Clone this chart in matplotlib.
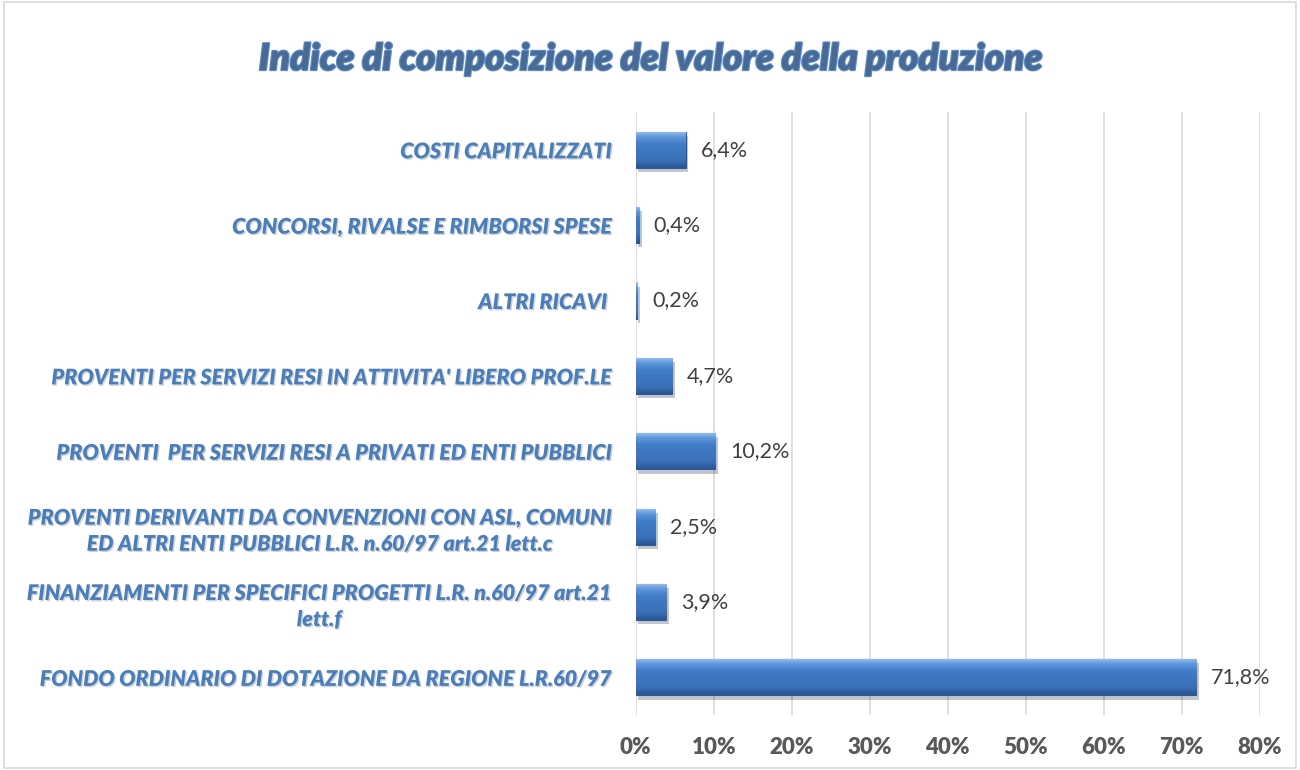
import numpy as np
import matplotlib
matplotlib.use("Agg")
import matplotlib.pyplot as plt
import matplotlib.patheffects as pe
from matplotlib.patches import Rectangle
from matplotlib.colors import LinearSegmentedColormap

# Dati (dal basso verso l'alto)
voci = [
    "FONDO ORDINARIO DI DOTAZIONE DA REGIONE L.R.60/97",
    "FINANZIAMENTI PER SPECIFICI PROGETTI L.R. n.60/97 art.21\nlett.f",
    "PROVENTI DERIVANTI DA CONVENZIONI CON ASL, COMUNI\nED ALTRI ENTI PUBBLICI L.R. n.60/97 art.21 lett.c",
    "PROVENTI  PER SERVIZI RESI A PRIVATI ED ENTI PUBBLICI",
    "PROVENTI PER SERVIZI RESI IN ATTIVITA' LIBERO PROF.LE",
    "ALTRI RICAVI ",
    "CONCORSI, RIVALSE E RIMBORSI SPESE",
    "COSTI CAPITALIZZATI",
]
percentuali = [71.8, 3.9, 2.5, 10.2, 4.7, 0.2, 0.4, 6.4]
tick_valori = [0, 10, 20, 30, 40, 50, 60, 70, 80]
tick_etichette = [f"{t}%" for t in tick_valori]

titolo = "Indice di composizione del valore della produzione"

plt.rcParams["font.family"] = ["Lato", "DejaVu Sans"]

fig = plt.figure(figsize=(13, 7.7), dpi=100)
ax = fig.add_axes([0.489, 0.0714, 0.48, 0.783])

y = np.arange(len(voci))
barre = ax.barh(y, percentuali, height=0.48, color="#3f74bd",
                edgecolor="#2b5a96", linewidth=0.8, zorder=3)

# sfumatura tipo "rilievo" sulle barre (chiaro in alto, scuro in basso)
grad = np.linspace(0, 1, 64).reshape(-1, 1)
cmap_barre = LinearSegmentedColormap.from_list(
    "bevel", [(0, "#9cc3f0"), (0.15, "#5f97dc"), (0.35, "#417cc7"),
              (0.8, "#3a70b8"), (1, "#2a5693")])
for b in barre:
    x0, y0 = b.get_x(), b.get_y()
    w, h = b.get_width(), b.get_height()
    im = ax.imshow(grad, extent=[x0, x0 + w, y0, y0 + h], aspect="auto",
                   cmap=cmap_barre, zorder=3.5, origin="upper")
    im.set_clip_path(b)
    b.set_path_effects([pe.SimplePatchShadow(offset=(2, -3), alpha=0.25), pe.Normal()])

for yi, v in zip(y, percentuali):
    ax.text(v + 1.9, yi, f"{v:.1f}%".replace(".", ","), va="center", ha="left",
            fontsize=15.5, color="#404040", zorder=5)

ax.set_xlim(0, 80)
ax.set_ylim(-0.5, len(voci) - 0.5)
ax.set_xticks(tick_valori)
ax.set_xticklabels(tick_etichette, fontsize=16, fontweight="heavy", color="#595959")
ax.set_yticks(y)
ax.set_yticklabels(voci, fontsize=15.5, fontweight="heavy", style="italic",
                   color="#4a7ebb", ha="center", multialignment="center",
                   linespacing=1.3)
ax.tick_params(axis="y", length=0, pad=0)
ax.tick_params(axis="x", length=0, pad=16)

# centra le etichette nella colonna a sinistra
fig.canvas.draw()
rend = fig.canvas.get_renderer()
for lab in ax.get_yticklabels():
    bb = lab.get_window_extent(rend)
    lab.set_x(-(bb.width / 2 + 24) / (ax.get_window_extent(rend).width))
    lab.set_transform(ax.get_yaxis_transform())
    lab.set_path_effects([pe.withSimplePatchShadow(offset=(1, -1), alpha=0.2)])

ax.grid(axis="x", color="#d9d9d9", linewidth=1.2, zorder=0)
for s in ax.spines.values():
    s.set_visible(False)

fig.text(0.5, 0.924, titolo, ha="center", va="center", fontsize=26.5,
         fontweight="heavy", style="italic", color="#4a6a94",
         path_effects=[pe.Stroke(linewidth=1.6, foreground="#5b8fd0"),
                       pe.Normal()])

fig.patches.append(Rectangle((0.003, 0.003), 0.994, 0.994, transform=fig.transFigure,
                             fill=False, edgecolor="#d9d9d9", linewidth=1.2))

fig.savefig("out.png", dpi=100)
